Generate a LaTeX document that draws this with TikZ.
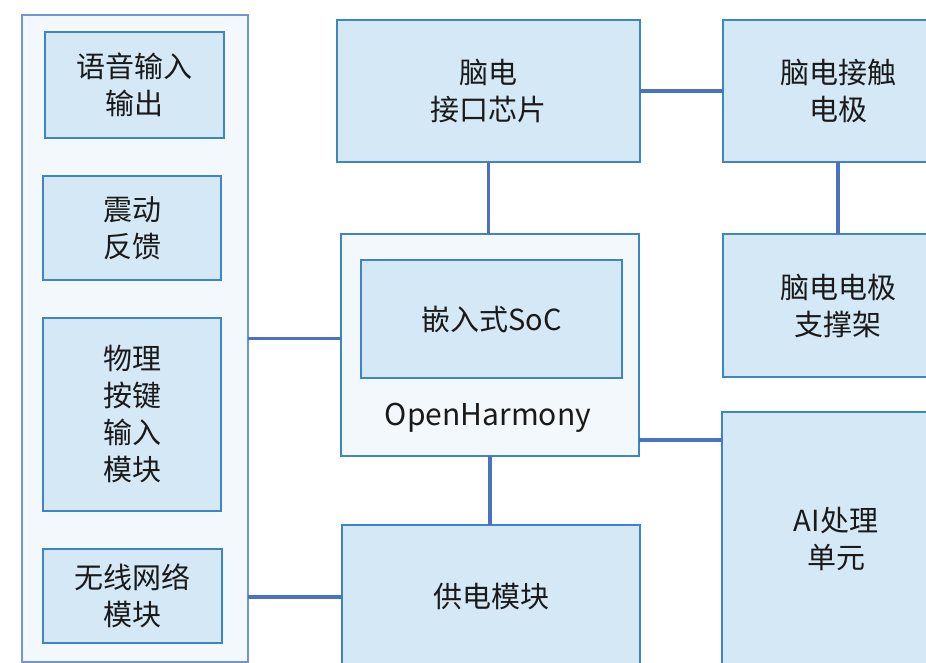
\documentclass[tikz,border=0pt]{standalone}
\usepackage{fontspec}
\newfontfamily\cjk{Noto Sans CJK SC}
\definecolor{boxdraw}{HTML}{3C86C6}
\definecolor{boxfill}{HTML}{D5E8F5}
\definecolor{contdraw}{HTML}{7196D0}
\definecolor{contfill}{HTML}{F3F8FC}
\definecolor{linkcol}{HTML}{4A72C0}
\definecolor{txt}{HTML}{1A1A1A}
\tikzset{
  base/.style={inner sep=0pt, outer sep=0pt, line width=2.8pt, align=center,
    font=\cjk\fontsize{29}{37}\selectfont, text=txt},
  ibox/.style={base, draw=boxdraw, fill=boxfill},
  cbox/.style={base, draw=contdraw, fill=contfill},
  obox/.style={base, draw=boxdraw, fill=contfill},
  link/.style={draw=linkcol, line width=3.2pt},
}
\begin{document}
\begin{tikzpicture}[x=1pt,y=-1pt]
\useasboundingbox (0,0) rectangle (926,663);
\fill[white] (0,0) rectangle (926,663);
% left container
\node[cbox, minimum width=226pt, minimum height=647pt] (cont) at (135,338.5) {};
\node[ibox, minimum width=179pt, minimum height=106pt] (voice) at (134.5,85) {语音输入\\输出};
\node[ibox, minimum width=178pt, minimum height=104pt] (vib) at (132,228) {震动\\反馈};
\node[ibox, minimum width=178pt, minimum height=193pt] (key) at (132,414.5) {物理\\按键\\输入\\模块};
\node[ibox, minimum width=179pt, minimum height=94pt] (wifi) at (132.5,596) {无线网络\\模块};
% center column
\node[ibox, minimum width=303pt, minimum height=142pt] (chip) at (488.5,91) {脑电\\接口芯片};
\node[obox, minimum width=298pt, minimum height=222pt] (os) at (490,345) {};
\node[ibox, minimum width=261pt, minimum height=118pt] (soc) at (491.5,319) {嵌入式SoC};
\node[base, font=\cjk\fontsize{30}{36}\selectfont] (oh) at (488,418) {OpenHarmony};
\node[ibox, minimum width=298pt, minimum height=144pt] (power) at (491,597) {供电模块};
% right column
\node[ibox, minimum width=230pt, minimum height=142pt] (elec) at (838,91) {脑电接触\\电极};
\node[ibox, minimum width=230pt, minimum height=143pt] (stand) at (838,305.5) {脑电电极\\支撑架};
\node[ibox, minimum width=228pt, minimum height=254pt] (ai) at (836,539) {AI处理\\单元};
% connectors
\draw[link] (chip.east) -- (elec.west);
\draw[link] (chip.south) -- (chip.south |- os.north);
\draw[link] (elec.south) -- (elec.south |- stand.north);
\draw[link] (cont.east) -- (cont.east -| os.west);
\draw[link] ([yshift=-95pt]os.east) -- ([yshift=-95pt]os.east -| ai.west);
\draw[link] (os.south) -- (os.south |- power.north);
\draw[link] (power.west) -- (power.west -| cont.east);
\end{tikzpicture}
\end{document}
